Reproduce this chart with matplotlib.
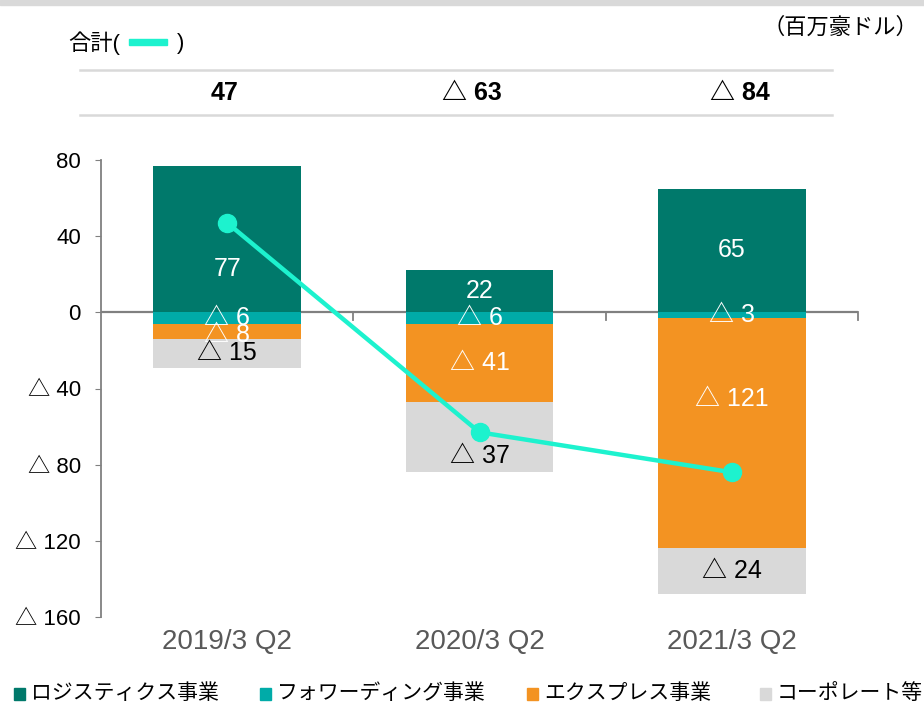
import matplotlib
matplotlib.use("Agg")
import matplotlib.pyplot as plt
from matplotlib.patches import Rectangle
from matplotlib.lines import Line2D
import numpy as np

plt.rcParams['font.family'] = ['Liberation Sans', 'Noto Sans CJK JP', 'DejaVu Sans']

# data (百万豪ドル)
periods = ["2019/3 Q2", "2020/3 Q2", "2021/3 Q2"]
logistics = [77, 22, 65]
forwarding = [-6, -6, -3]
express = [-8, -41, -121]
corporate = [-15, -37, -24]
totals = [47, -63, -84]
series_names = ["ロジスティクス事業", "フォワーディング事業", "エクスプレス事業", "コーポレート等"]
yticks = [80, 40, 0, -40, -80, -120, -160]

colors = ["#00796B", "#00ABA8", "#F39322", "#D9D9D9"]
line_color = "#1DF2CE"
axis_grey = "#808080"


def fmt(v):
    return f"△ {abs(v)}" if v < 0 else f"{v}"


W, H = 924, 704
fig = plt.figure(figsize=(W / 100, H / 100), dpi=100)

# axes placed in pixel terms
x0, x1, ytop, ybot = 101, 858, 160, 617
ax = fig.add_axes([x0 / W, 1 - ybot / H, (x1 - x0) / W, (ybot - ytop) / H])
ax.set_xlim(-0.5, 2.5)
ax.set_ylim(-160, 80)

x = np.arange(len(periods))
bw = 0.586
all_series = [logistics, forwarding, express, corporate]

# stack: logistics up from zero, the rest downward in order
neg_base = np.zeros(len(periods))
segments = []  # (series index, bottom, height)
for si, vals in enumerate(all_series):
    vals = np.array(vals, dtype=float)
    if si == 0:
        ax.bar(x, vals, bw, bottom=0, color=colors[si], zorder=2)
        segments.append((si, np.zeros(len(x)), vals))
    else:
        ax.bar(x, vals, bw, bottom=neg_base, color=colors[si], zorder=2)
        segments.append((si, neg_base.copy(), vals))
        neg_base = neg_base + vals

# label nudges (units) where the source moved labels off centre
nudge = {(0, 0): -15.5, (3, 1): -10, (2, 2): 18, (2, 0): -2}
for si, bottoms, vals in segments:
    for i in range(len(x)):
        yc = bottoms[i] + vals[i] / 2 + nudge.get((si, i), 0)
        tc = "black" if si == 3 else "white"
        ax.text(x[i], yc, fmt(int(vals[i])), ha="center", va="center",
                fontsize=18, color=tc, zorder=4)

ax.plot(x, totals, color=line_color, lw=3.2, marker="o", markersize=13,
        zorder=3)

# axes styling
for s in ["top", "right", "bottom"]:
    ax.spines[s].set_visible(False)
ax.spines["left"].set_color(axis_grey)
ax.spines["left"].set_linewidth(1.3)
ax.axhline(0, color=axis_grey, lw=1.6, zorder=1)
for xb in [0.5, 1.5, 2.5]:
    ax.plot([xb, xb], [0, -4], color=axis_grey, lw=1.3, zorder=1, clip_on=False)

ax.set_yticks(yticks)
ax.set_yticklabels([fmt(v) for v in yticks], fontsize=16)
ax.tick_params(axis="y", length=4.5, color=axis_grey, pad=10)
ax.set_xticks(x)
ax.set_xticklabels(periods, fontsize=20, color="#595959")
ax.tick_params(axis="x", length=0, pad=9)

# header: totals row between grey rules
for yy in [70, 115]:
    fig.add_artist(Line2D([80 / W, 832 / W], [1 - yy / H, 1 - yy / H],
                          color="#D9D9D9", lw=1.8))
head_x = [225, 472, 740]
for i, v in enumerate(totals):
    fig.text(head_x[i] / W, 1 - 93 / H, fmt(v), ha="center", va="center",
             fontsize=18, fontweight="bold")

# top band
fig.add_artist(Rectangle((0, 1 - 5 / H), 1, 5 / H, color="#D9D9D9",
                         transform=fig.transFigure))

fig.text(68 / W, 1 - 43 / H, "合計(", fontsize=16, va="center", ha="left")
fig.add_artist(Rectangle((129 / W, 1 - 45 / H), 38 / W, 6 / H,
                         color=line_color, transform=fig.transFigure))
fig.text(177 / W, 1 - 43 / H, ")", fontsize=16, va="center", ha="left")
fig.text(918 / W, 1 - 28 / H, "（百万豪ドル）", fontsize=16, va="center",
         ha="right")

# legend row
leg_x = [14, 260, 527, 760]
for i, name in enumerate(series_names):
    fig.add_artist(Rectangle((leg_x[i] / W, 1 - 700 / H), 11 / W, 12 / H,
                             color=colors[i], transform=fig.transFigure))
    fig.text((leg_x[i] + 17) / W, 1 - 693 / H, name, fontsize=15,
             va="center", ha="left", family="Noto Sans CJK JP")

fig.savefig("out.png", dpi=100)
